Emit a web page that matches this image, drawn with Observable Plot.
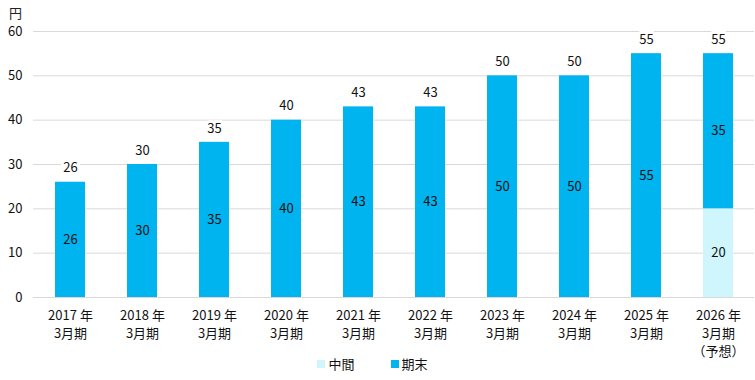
<!DOCTYPE html>
<html><head><meta charset="utf-8">
<script src="https://cdn.jsdelivr.net/npm/d3@7"></script>
<script src="https://cdn.jsdelivr.net/npm/@observablehq/plot@0.6"></script>
<style>
body{margin:0;background:#fff;font-family:"Noto Sans CJK JP","Noto Sans",sans-serif;}
#wrap{position:relative;width:755px;height:380px;}
#unit{position:absolute;left:9px;top:3px;font-size:13px;color:#222;}
#legend{position:absolute;left:0;top:352px;width:745px;display:flex;justify-content:center;gap:36px;font-size:13px;color:#111;height:22px;align-items:center;}
#legend span.sw{display:inline-block;width:8px;height:8px;margin-right:3px;vertical-align:middle;position:relative;top:-1px;}
</style></head>
<body>
<div id="wrap"><div id="unit">円</div><div id="chart"></div>
<div id="legend"><div><span class="sw" style="background:#CFF6FC"></span>中間</div><div><span class="sw" style="background:#00B4F0"></span>期末</div></div></div>
<script>
const years = ["2017 年\n3月期","2018 年\n3月期","2019 年\n3月期","2020 年\n3月期","2021 年\n3月期","2022 年\n3月期","2023 年\n3月期","2024 年\n3月期","2025 年\n3月期","2026 年\n3月期\n（予想）"];
const interim = [0,0,0,0,0,0,0,0,0,20];
const finalDiv = [26,30,35,40,43,43,50,50,55,35];
const types = ["中間","期末"];
const colors = ["#CFF6FC","#00B4F0"];
const yTicks = [0,10,20,30,40,50,60];

const rows = [];
years.forEach((y,i)=>{
  if (interim[i] > 0) rows.push({year:y, type:"中間", value:interim[i]});
  rows.push({year:y, type:"期末", value:finalDiv[i]});
});
const totals = years.map((y,i)=>({year:y, total:interim[i]+finalDiv[i]}));

const chart = Plot.plot({
  width:755, height:362,
  marginLeft:33, marginRight:1, marginTop:31, marginBottom:65,
  style:{fontFamily:'"Noto Sans CJK JP","Noto Sans",sans-serif', fontSize:"13px", color:"#111"},
  x:{domain:years, paddingInner:0.585, paddingOuter:0.2925, label:null},
  y:{domain:[0,60], ticks:yTicks, label:null},
  color:{domain:types, range:colors},
  marks:[
    Plot.gridY(yTicks, {stroke:"#d9d9d9", strokeOpacity:1}),
    Plot.barY(rows, Plot.stackY({x:"year", y:"value", z:"type", fill:"type", order:types})),
    Plot.text(rows, Plot.stackY({x:"year", y:"value", z:"type", order:types, text:"value", fill:"#111", fontSize:13})),
    Plot.text(totals, {x:"year", y:"total", text:"total", dy:-14, fill:"#111", stroke:"white", strokeWidth:6, fontSize:13}),
    Plot.axisY({ticks:yTicks, tickSize:0, tickPadding:11, fontSize:13, fill:"#111"}),
    Plot.axisX({tickSize:0, tickPadding:10, fontSize:13, lineHeight:1.38, fill:"#111"})
  ]
});
document.getElementById("chart").appendChild(chart);
</script>
</body></html>
